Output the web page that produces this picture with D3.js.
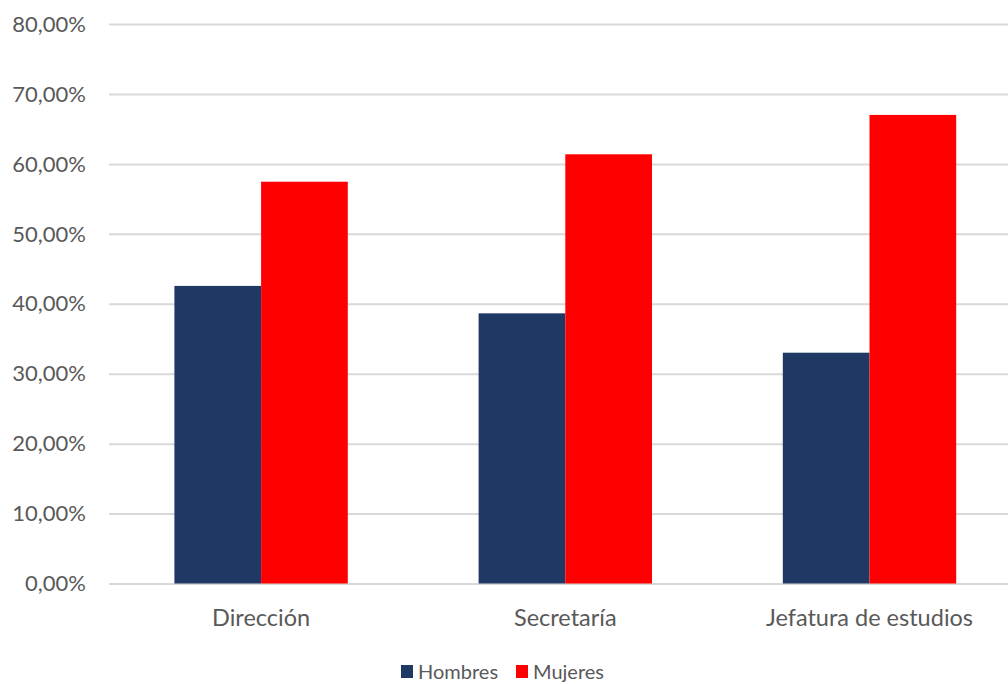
<!DOCTYPE html>
<html>
<head>
<meta charset="utf-8">
<script src="https://cdn.jsdelivr.net/npm/d3@7"></script>
<style>
  body { margin: 0; background: #fff; }
  svg { display: block; font-family: Lato, "Liberation Sans", sans-serif; }
  .grid line { stroke: #d9d9d9; stroke-width: 2; }
  .grid path { display: none; }
  .ytick text, .xtick text, .legend text { fill: #595959; }
</style>
</head>
<body>
<div id="chart"></div>
<script>
// data
var categories = ["Dirección", "Secretaría", "Jefatura de estudios"];
var series = ["Hombres", "Mujeres"];
var hombres = [42.55, 38.63, 33.0];
var mujeres = [57.45, 61.37, 67.0];
var yTicks = [0, 10, 20, 30, 40, 50, 60, 70, 80];
var colors = ["#203864", "#ff0000"];

var svg = d3.select("#chart").append("svg").attr("width", 1008).attr("height", 684),
    plotLeft = 109, plotRight = 1021.6, plotTop = 24, plotBottom = 583.5;

var y = d3.scaleLinear().domain([0, 80]).range([plotBottom, plotTop]);
var x0 = d3.scaleBand().domain(categories).range([plotLeft, plotRight])
    .paddingInner(0.43).paddingOuter(0.215);
var x1 = d3.scaleBand().domain(series).range([0, x0.bandwidth()]);

var fmt = function(d) { return d.toFixed(2).replace(".", ",") + "%"; };

// gridlines
svg.append("g")
    .attr("class", "grid")
    .attr("transform", "translate(" + plotLeft + ",0)")
    .call(d3.axisLeft(y).tickValues(yTicks).tickSize(-(plotRight - plotLeft)).tickFormat(""));

// y labels
svg.append("g").attr("class", "ytick")
    .selectAll("text")
    .data(yTicks)
    .enter().append("text")
    .attr("x", 86)
    .attr("y", function(d) { return y(d); })
    .attr("dy", "0.35em")
    .attr("text-anchor", "end")
    .style("font-size", "22px")
    .text(fmt);

// bars
var rows = categories.map(function(c, i) { return {cat: c, vals: [hombres[i], mujeres[i]]}; });

var groups = svg.append("g").selectAll("g")
    .data(rows)
    .enter().append("g")
    .attr("transform", function(d) { return "translate(" + x0(d.cat) + ",0)"; });

groups.selectAll("rect")
    .data(function(d) { return d.vals.map(function(v, j) { return {s: series[j], v: v, j: j}; }); })
    .enter().append("rect")
    .attr("x", function(d) { return x1(d.s); })
    .attr("width", x1.bandwidth())
    .attr("y", function(d) { return y(d.v); })
    .attr("height", function(d) { return plotBottom - y(d.v); })
    .attr("fill", function(d) { return colors[d.j]; });

// x labels
svg.append("g").attr("class", "xtick")
    .selectAll("text")
    .data(categories)
    .enter().append("text")
    .attr("x", function(d) { return x0(d) + x0.bandwidth() / 2; })
    .attr("y", 618)
    .attr("dy", "0.35em")
    .attr("text-anchor", "middle")
    .style("font-size", "23.5px")
    .text(function(d) { return d; });

// legend
var legX = [401, 516];
var leg = svg.append("g").attr("class", "legend")
    .selectAll("g")
    .data(series)
    .enter().append("g")
    .attr("transform", function(d, i) { return "translate(" + legX[i] + ",665)"; });

leg.append("rect").attr("width", 12).attr("height", 13)
    .attr("fill", function(d, i) { return colors[i]; });

leg.append("text").attr("x", 17).attr("y", 6.5).attr("dy", "0.35em")
    .style("font-size", "20px")
    .text(function(d) { return d; });
</script>
</body>
</html>
